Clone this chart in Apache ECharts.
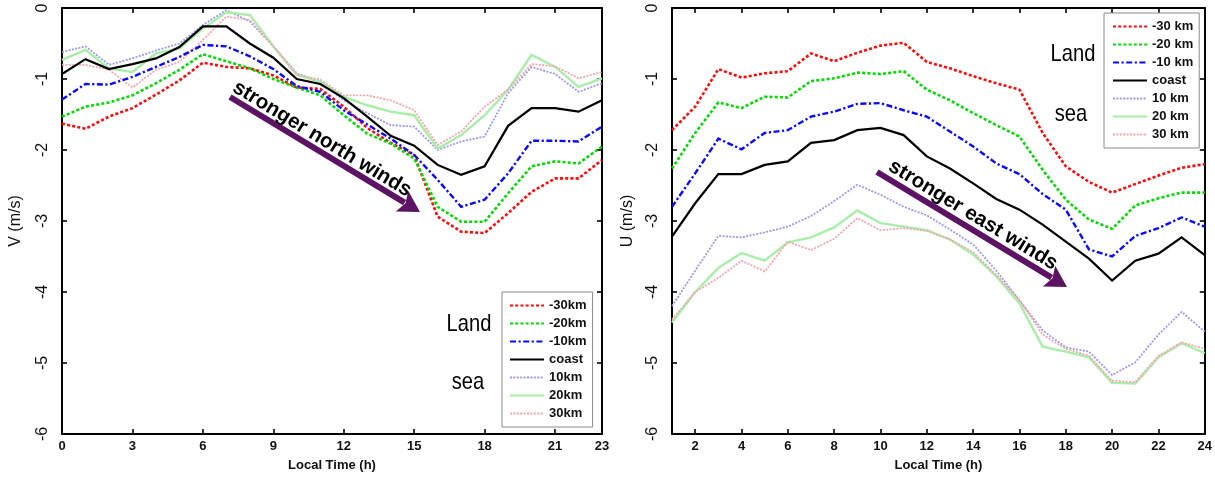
<!DOCTYPE html>
<html>
<head>
<meta charset="utf-8">
<script src="https://cdn.jsdelivr.net/npm/echarts@6/dist/echarts.min.js"></script>
<style>
  html, body { margin: 0; padding: 0; background: #ffffff; }
  #chart { width: 1215px; height: 478px; }
</style>
</head>
<body>
<div id="chart"></div>
<script>
// Hourly mean wind components at distances across the coastline
const hoursV = [0,1,2,3,4,5,6,7,8,9,10,11,12,13,14,15,16,17,18,19,20,21,22,23];
const hoursU = [1,2,3,4,5,6,7,8,9,10,11,12,13,14,15,16,17,18,19,20,21,22,23,24];

// V (m/s), meridional component
const vLand30 = [-1.63,-1.70,-1.53,-1.41,-1.22,-1.02,-0.77,-0.83,-0.85,-0.95,-1.12,-1.14,-1.39,-1.69,-1.90,-2.07,-2.94,-3.15,-3.17,-2.89,-2.59,-2.40,-2.40,-2.14];
const vLand20 = [-1.53,-1.39,-1.33,-1.23,-1.06,-0.87,-0.65,-0.75,-0.85,-1.00,-1.12,-1.23,-1.51,-1.77,-1.91,-2.12,-2.80,-3.01,-3.01,-2.61,-2.23,-2.16,-2.19,-1.95];
const vLand10 = [-1.29,-1.07,-1.08,-0.97,-0.83,-0.69,-0.52,-0.54,-0.68,-0.86,-1.10,-1.18,-1.44,-1.64,-1.84,-2.07,-2.42,-2.80,-2.70,-2.33,-1.87,-1.87,-1.88,-1.67];
const vCoast  = [-0.93,-0.72,-0.86,-0.79,-0.71,-0.55,-0.26,-0.26,-0.50,-0.70,-1.00,-1.07,-1.27,-1.53,-1.80,-1.94,-2.21,-2.35,-2.23,-1.66,-1.41,-1.41,-1.46,-1.30];
const vSea10  = [-0.62,-0.54,-0.80,-0.71,-0.60,-0.50,-0.24,-0.03,-0.19,-0.54,-0.92,-1.04,-1.30,-1.48,-1.65,-1.67,-2.00,-1.88,-1.81,-1.20,-0.83,-0.93,-1.18,-1.06];
const vSea20  = [-0.73,-0.59,-0.85,-0.90,-0.64,-0.57,-0.29,-0.06,-0.10,-0.54,-0.94,-1.04,-1.25,-1.37,-1.46,-1.51,-1.98,-1.79,-1.51,-1.15,-0.66,-0.83,-1.11,-0.99];
const vSea30  = [-0.80,-0.80,-0.87,-1.12,-0.87,-0.76,-0.45,-0.12,-0.17,-0.54,-0.94,-1.01,-1.23,-1.23,-1.30,-1.44,-1.93,-1.74,-1.39,-1.15,-0.79,-0.82,-0.99,-0.90];

// U (m/s), zonal component
const uLand30 = [-1.72,-1.39,-0.86,-0.98,-0.92,-0.89,-0.64,-0.75,-0.63,-0.53,-0.49,-0.76,-0.85,-0.96,-1.06,-1.15,-1.76,-2.23,-2.45,-2.60,-2.48,-2.36,-2.25,-2.20];
const uLand20 = [-2.26,-1.76,-1.33,-1.41,-1.25,-1.26,-1.03,-0.99,-0.91,-0.93,-0.89,-1.15,-1.30,-1.48,-1.65,-1.81,-2.28,-2.70,-2.98,-3.11,-2.78,-2.68,-2.60,-2.60];
const uLand10 = [-2.80,-2.33,-1.84,-1.99,-1.76,-1.72,-1.53,-1.46,-1.35,-1.34,-1.44,-1.53,-1.74,-1.95,-2.19,-2.34,-2.62,-2.84,-3.40,-3.50,-3.21,-3.10,-2.95,-3.08];
const uCoast  = [-3.22,-2.75,-2.34,-2.34,-2.21,-2.16,-1.90,-1.86,-1.72,-1.69,-1.79,-2.09,-2.26,-2.47,-2.69,-2.84,-3.05,-3.29,-3.53,-3.84,-3.56,-3.46,-3.23,-3.48];
const uSea10  = [-4.20,-3.70,-3.21,-3.23,-3.16,-3.08,-2.93,-2.72,-2.49,-2.63,-2.80,-2.92,-3.12,-3.33,-3.70,-4.12,-4.54,-4.78,-4.84,-5.17,-4.99,-4.60,-4.28,-4.56];
const uSea20  = [-4.43,-4.00,-3.66,-3.45,-3.56,-3.30,-3.23,-3.09,-2.85,-3.03,-3.08,-3.13,-3.26,-3.47,-3.78,-4.16,-4.77,-4.84,-4.92,-5.28,-5.29,-4.92,-4.72,-4.86];
const uSea30  = [-4.39,-4.00,-3.80,-3.56,-3.71,-3.29,-3.41,-3.25,-2.96,-3.13,-3.10,-3.14,-3.26,-3.44,-3.76,-4.11,-4.60,-4.80,-4.90,-5.25,-5.27,-4.90,-4.71,-4.80];

// Tick labels
const vTicksX = [0,3,6,9,12,15,18,21,23];
const uTicksX = [2,4,6,8,10,12,14,16,18,20,22,24];
const namesV = ['-30km','-20km','-10km','coast','10km','20km','30km'];
const namesU = ['-30 km','-20 km','-10 km','coast','10 km','20 km','30 km'];

const FONT = "'Liberation Sans', Arial, sans-serif";

// Line look for each distance, in legend order
const styles = [
  { color: '#ff0a0a', width: 2.6, type: [3, 2.2] },
  { color: '#00dc00', width: 2.6, type: [3, 2.2] },
  { color: '#0a0aff', width: 2.4, type: [6, 2.5, 2.2, 2.5] },
  { color: '#000000', width: 2.2, type: 'solid' },
  { color: '#9a9af6', width: 1.8, type: [2, 1.4] },
  { color: '#a9eda9', width: 2.4, type: 'solid' },
  { color: '#f3a6ac', width: 1.8, type: [2, 1.4] }
];

function pairs(xs, ys) { return xs.map((x, i) => [x, ys[i]]); }

function makeSeries(names, xs, sets, axisIdx) {
  // sea curves first so the land curves sit on top
  const order = [4, 5, 6, 0, 1, 2, 3];
  return order.map(k => ({
    name: names[k],
    type: 'line',
    xAxisIndex: axisIdx,
    yAxisIndex: axisIdx,
    data: pairs(xs, sets[k]),
    symbol: 'none',
    smooth: false,
    z: k === 3 ? 4 : 3,
    lineStyle: { color: styles[k].color, width: styles[k].width, type: styles[k].type, cap: 'butt', join: 'miter' },
    itemStyle: { color: styles[k].color },
    emphasis: { disabled: true },
    animation: false
  }));
}

function bottomX(gridIndex, min, max, ticks) {
  return {
    type: 'value', gridIndex, min, max, position: 'bottom',
    name: 'Local Time (h)', nameLocation: 'middle', nameGap: 25,
    nameTextStyle: { fontFamily: FONT, fontSize: 13, fontWeight: 'bold', color: '#111' },
    axisLine: { show: true, onZero: false, lineStyle: { color: '#000', width: 2 } },
    axisTick: { show: true, inside: true, length: 5, customValues: ticks, lineStyle: { color: '#000', width: 1.6 } },
    axisLabel: { show: true, customValues: ticks, margin: 6, fontFamily: FONT, fontSize: 13, fontWeight: 'bold', color: '#111' },
    splitLine: { show: false }
  };
}
function topX(gridIndex, min, max, ticks) {
  return {
    type: 'value', gridIndex, min, max, position: 'top',
    axisLine: { show: true, onZero: false, lineStyle: { color: '#000', width: 2 } },
    axisTick: { show: true, inside: true, length: 5, customValues: ticks, lineStyle: { color: '#000', width: 1.6 } },
    axisLabel: { show: false },
    splitLine: { show: false }
  };
}
function leftY(gridIndex, name, gap) {
  return {
    type: 'value', gridIndex, min: -6, max: 0, interval: 1, position: 'left',
    name, nameLocation: 'middle', nameGap: gap, nameRotate: 90,
    nameTextStyle: { fontFamily: FONT, fontSize: 16, color: '#111' },
    axisLine: { show: true, onZero: false, lineStyle: { color: '#000', width: 2 } },
    axisTick: { show: true, inside: true, length: 5, lineStyle: { color: '#000', width: 1.6 } },
    axisLabel: { show: true, rotate: 90, margin: 11, fontFamily: FONT, fontSize: 16, color: '#111' },
    splitLine: { show: false }
  };
}
function rightY(gridIndex) {
  return {
    type: 'value', gridIndex, min: -6, max: 0, interval: 1, position: 'right',
    axisLine: { show: true, onZero: false, lineStyle: { color: '#000', width: 2 } },
    axisTick: { show: true, inside: true, length: 5, lineStyle: { color: '#000', width: 1.6 } },
    axisLabel: { show: false },
    splitLine: { show: false }
  };
}

function legendBox(names, left, top, padding) {
  return {
    data: names.map(n => ({ name: n })),
    orient: 'vertical', left, top,
    padding, itemGap: 5, itemWidth: 34, itemHeight: 14,
    backgroundColor: '#ffffff', borderColor: '#8a8a8a', borderWidth: 1, borderRadius: 0,
    selectedMode: false,
    // line sample only, no marker
    itemStyle: { opacity: 0 },
    textStyle: { fontFamily: FONT, fontSize: 13, fontWeight: 'bold', color: '#111' }
  };
}

// Annotation arrow: shaft plus filled head
function arrow(x1, y1, x2, y2, color) {
  const dx = x2 - x1, dy = y2 - y1, L = Math.hypot(dx, dy);
  const ux = dx / L, uy = dy / L, nx = -uy, ny = ux;
  const headL = 21, headW = 12;
  const bx = x2 - ux * headL, by = y2 - uy * headL;
  return [
    { type: 'line', shape: { x1, y1, x2: bx + ux * 3, y2: by + uy * 3 }, style: { stroke: color, lineWidth: 6 }, z: 20 },
    { type: 'polygon', shape: { points: [[x2, y2], [bx + nx * headW, by + ny * headW], [bx + ux * 4, by + uy * 4], [bx - nx * headW, by - ny * headW]] }, style: { fill: color }, z: 20 }
  ];
}
function label(text, x, y, size, weight, rot, sx) {
  return {
    type: 'text', x, y, rotation: rot || 0, scaleX: sx || 1, z: 21,
    style: { text, x: 0, y: 0, align: 'center', verticalAlign: 'middle', fontFamily: FONT, fontSize: size, fontWeight: weight, fill: '#000' }
  };
}

const PURPLE = '#5c1364';
const ang = -Math.atan2(116, 191);

const option = {
  backgroundColor: '#ffffff',
  animation: false,
  textStyle: { fontFamily: FONT },
  grid: [
    { left: 62, top: 8, width: 540, height: 426, containLabel: false },
    { left: 672, top: 8, width: 536, height: 426, containLabel: false }
  ],
  xAxis: [
    bottomX(0, 0, 23, vTicksX),
    bottomX(1, 1, 24, uTicksX),
    topX(0, 0, 23, vTicksX),
    topX(1, 1, 24, uTicksX)
  ],
  yAxis: [
    leftY(0, 'V (m/s)', 38),
    leftY(1, 'U (m/s)', 36),
    rightY(0),
    rightY(1)
  ],
  legend: [
    legendBox(namesV, 502, 292, [7, 6, 7, 7]),
    legendBox(namesU, 1104, 13, [7, 6, 7, 8])
  ],
  series: [
    ...makeSeries(namesV, hoursV, [vLand30, vLand20, vLand10, vCoast, vSea10, vSea20, vSea30], 0),
    ...makeSeries(namesU, hoursU, [uLand30, uLand20, uLand10, uCoast, uSea10, uSea20, uSea30], 1)
  ],
  graphic: [
    ...arrow(230, 97, 420, 212, PURPLE),
    ...arrow(877, 172, 1067, 287, PURPLE),
    label('stronger north winds', 322, 139, 20.5, 'bold', ang),
    label('stronger east winds', 973, 215, 20.5, 'bold', ang),
    label('Land', 469, 324, 24, 'normal', 0, 0.84),
    label('sea', 468, 382, 24, 'normal', 0, 0.84),
    label('Land', 1073, 54, 24, 'normal', 0, 0.84),
    label('sea', 1071, 114, 24, 'normal', 0, 0.84)
  ]
};

const chart = echarts.init(document.getElementById('chart'), null, { renderer: 'canvas' });
chart.setOption(option);
</script>
</body>
</html>
